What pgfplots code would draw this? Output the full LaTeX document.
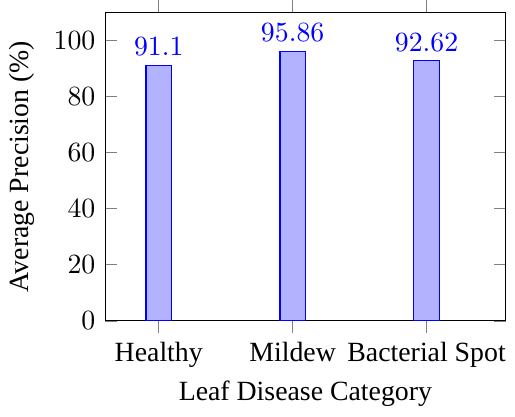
\documentclass[border=0pt]{standalone}
\usepackage{fontspec}
\setmainfont{Liberation Serif}
\usepackage{pgfplots}
\pgfplotsset{compat=1.18}
\begin{document}
\begin{tikzpicture}
\begin{axis}[
  scale only axis,
  width=144pt, height=111pt,
  ybar,
  bar width=0.19,
  xmin=-0.4, xmax=2.59,
  ymin=0, ymax=110,
  xtick={0,1,2},
  xticklabels={Healthy,Mildew,Bacterial Spot},
  xtick align=outside,
  ytick={0,20,40,60,80,100},
  ylabel={Average Precision (\%)},
  xlabel={Leaf Disease Category},
  xlabel style={yshift=2pt},
  nodes near coords,
  every node near coord/.append style={font=\normalsize, text=blue},
]
\addplot[blue, fill=blue!30] coordinates {(0,91.1) (1,95.86) (2,92.62)};
\end{axis}
\end{tikzpicture}
\end{document}
